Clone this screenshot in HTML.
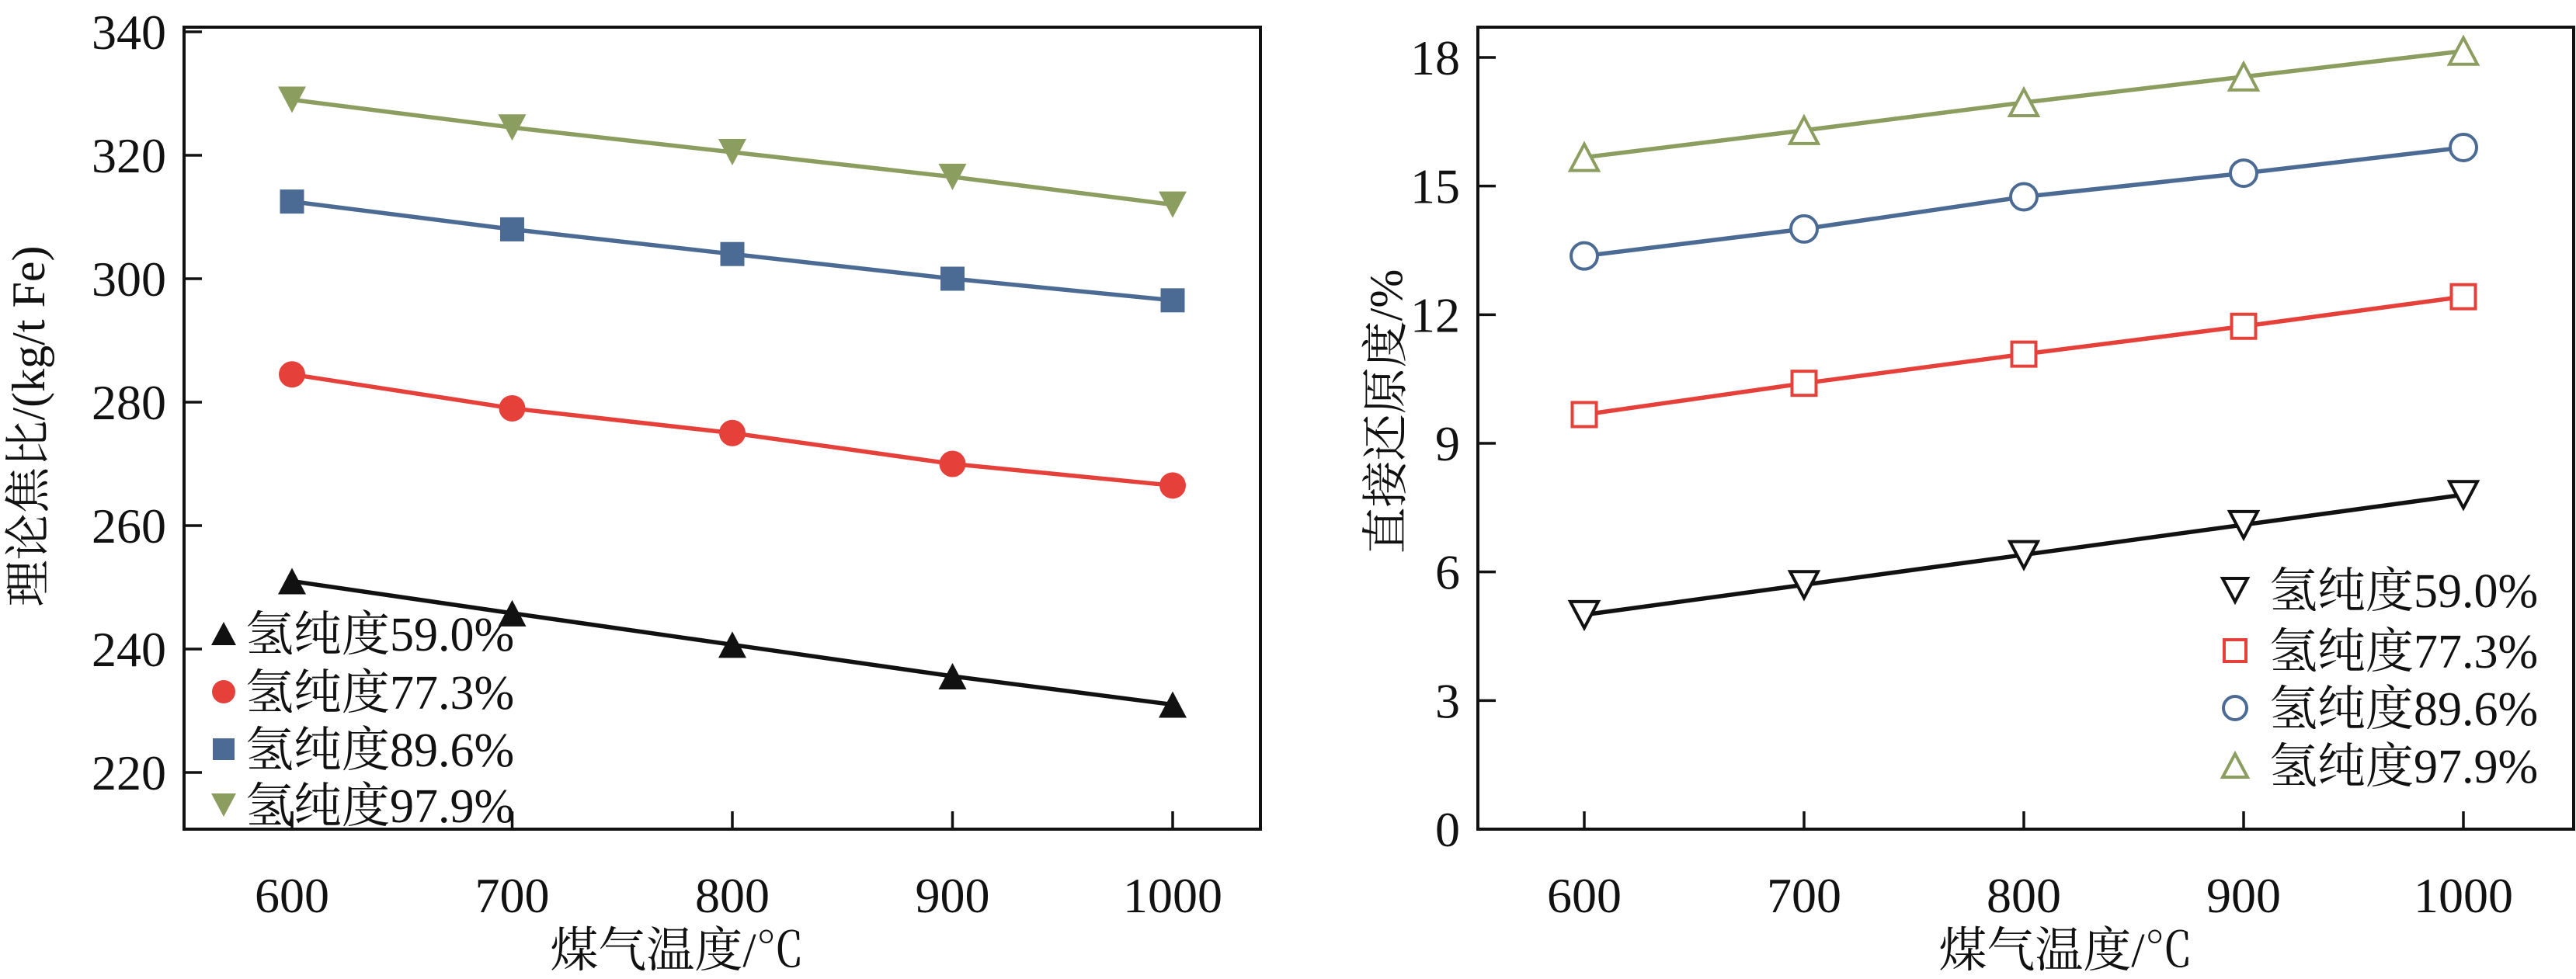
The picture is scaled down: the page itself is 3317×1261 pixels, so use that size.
<!DOCTYPE html>
<html><head><meta charset="utf-8"><style>
html,body{margin:0;padding:0;background:#fff;}
svg{display:block;}
text{font-family:"Liberation Serif","Noto Serif CJK SC","Noto Sans CJK SC",serif;fill:#111;}
</style></head><body>
<svg id="fig" width="3317" height="1261" viewBox="0 0 3317 1261" xmlns="http://www.w3.org/2000/svg">
<g id="left"></g>
<g id="right"></g>
</svg>
<script>
const temps = [600, 700, 800, 900, 1000];
const seriesNames = ["氢纯度59.0%", "氢纯度77.3%", "氢纯度89.6%", "氢纯度97.9%"];
const cokeH59 = [251, 245.8, 240.7, 235.6, 231];
const cokeH77 = [284.5, 279, 275, 270, 266.5];
const cokeH89 = [312.5, 308, 304, 300, 296.5];
const cokeH97 = [329, 324.5, 320.5, 316.5, 312];
const drH59 = [5.0, 5.7, 6.4, 7.1, 7.8];
const drH77 = [9.67, 10.4, 11.08, 11.73, 12.42];
const drH89 = [13.37, 14.0, 14.75, 15.3, 15.9];
const drH97 = [15.67, 16.3, 16.95, 17.55, 18.15];
const leftYTicks = [220, 240, 260, 280, 300, 320, 340];
const rightYTicks = [0, 3, 6, 9, 12, 15, 18];

const NS = "http://www.w3.org/2000/svg";
const colors = ["#111111", "#e5403a", "#4b6b95", "#8b9d5f"];
function mk(parent, tag, attrs, txt) {
  const e = document.createElementNS(NS, tag);
  for (const k in attrs) e.setAttribute(k, attrs[k]);
  if (txt !== undefined) e.textContent = txt;
  parent.appendChild(e);
  return e;
}
function marker(g, type, cx, cy, color, filled, big) {
  const f = filled ? color : "#fff";
  const sw = filled ? 0 : 4;
  let el;
  if (type === "tri-up" || type === "tri-down") {
    const h = big ? 34 : 30, w = big ? 36 : 32;
    const d = type === "tri-up" ? -1 : 1;
    const pts = [[cx - w/2, cy - d*h/2], [cx + w/2, cy - d*h/2], [cx, cy + d*h/2]];
    el = mk(g, "polygon", {points: pts.map(p => p.join(",")).join(" "), fill: f, stroke: color, "stroke-width": sw, "stroke-linejoin": "miter"});
  } else if (type === "square") {
    const s = big ? 31 : 28;
    el = mk(g, "rect", {x: cx - s/2, y: cy - s/2, width: s, height: s, fill: f, stroke: color, "stroke-width": sw});
  } else {
    const r = big ? 17 : 15;
    el = mk(g, "circle", {cx: cx, cy: cy, r: r, fill: f, stroke: color, "stroke-width": sw});
  }
  
  
  return el;
}
function drawChart(g, cfg) {
  const xs = v => cfg.x0 + (v - 600) / 400 * (cfg.x1 - cfg.x0);
  const ys = v => cfg.yA + (v - cfg.vA) / (cfg.vB - cfg.vA) * (cfg.yB - cfg.yA);
  const frame = mk(g, "rect", {x: cfg.L, y: cfg.T, width: cfg.R - cfg.L, height: cfg.B - cfg.T, fill: "none", stroke: "#111", "stroke-width": 4});
  
  
  cfg.yTicks.forEach(v => {
    const y = ys(v);
    if (y < cfg.B - 3) {
      const t = mk(g, "line", {x1: cfg.L, x2: cfg.L + 23, y1: y, y2: y, stroke: "#111", "stroke-width": 3.5});
      
      
    }
    const lb = mk(g, "text", {x: cfg.yLabX, y: y + 22, "text-anchor": "end", "font-size": 64}, String(v));
    
    
  });
  temps.forEach(v => {
    const x = xs(v);
    const t = mk(g, "line", {x1: x, x2: x, y1: cfg.B, y2: cfg.B - 23, stroke: "#111", "stroke-width": 3.5});
    
    
    const lb = mk(g, "text", {x: x, y: 1175, "text-anchor": "middle", "font-size": 64}, String(v));
    
    
  });
  const xt = mk(g, "text", {x: cfg.xTitleX, y: 1245, "text-anchor": "middle", "font-size": 62}, "煤气温度/℃");
  
  
  const yt = mk(g, "text", {x: 0, y: 0, "text-anchor": "middle", "font-size": 60, transform: `translate(${cfg.yTitleX},${cfg.yTitleY}) rotate(-90)`}, cfg.yTitle);
  
  
  cfg.series.forEach((s, i) => {
    const sg = mk(g, "g", {});
    
    
    const pts = s.map((v, j) => xs(temps[j]) + "," + ys(v)).join(" ");
    const pl = mk(sg, "polyline", {points: pts, fill: "none", stroke: colors[i], "stroke-width": 5.5});
    
    
    s.forEach((v, j) => marker(sg, cfg.markers[i], xs(temps[j]), ys(v), colors[i], cfg.filled, true));
  });
  cfg.series.forEach((s, i) => {
    const lg = mk(g, "g", {});
    
    
    const y = cfg.legRows[i];
    marker(lg, cfg.markers[i], cfg.legMX, y, colors[i], cfg.filled, false);
    const tx = mk(lg, "text", {x: cfg.legTX, y: y + 22, "font-size": 62}, seriesNames[i]);
    
    
  });
}
drawChart(document.getElementById("left"), {
  L: 237, R: 1623, T: 35, B: 1068, x0: 376, x1: 1510,
  vA: 320, yA: 200, vB: 220, yB: 995,
  yTicks: leftYTicks, yLabX: 214, xTitleX: 872,
  yTitle: "理论焦比/(kg/t Fe)", yTitleX: 57, yTitleY: 549,
  series: [cokeH59, cokeH77, cokeH89, cokeH97],
  markers: ["tri-up", "circle", "square", "tri-down"], filled: true,
  legMX: 288, legTX: 316, legRows: [816, 891, 965, 1037]
});
drawChart(document.getElementById("right"), {
  L: 1903, R: 3314, T: 35, B: 1068, x0: 2040, x1: 3172,
  vA: 18, yA: 74, vB: 0, yB: 1068,
  yTicks: rightYTicks, yLabX: 1880, xTitleX: 2660,
  yTitle: "直接还原度/%", yTitleX: 1805, yTitleY: 530,
  series: [drH59, drH77, drH89, drH97],
  markers: ["tri-down", "square", "circle", "tri-up"], filled: false,
  legMX: 2878, legTX: 2922, legRows: [760, 838, 912, 986]
});
</script>
</body></html>
